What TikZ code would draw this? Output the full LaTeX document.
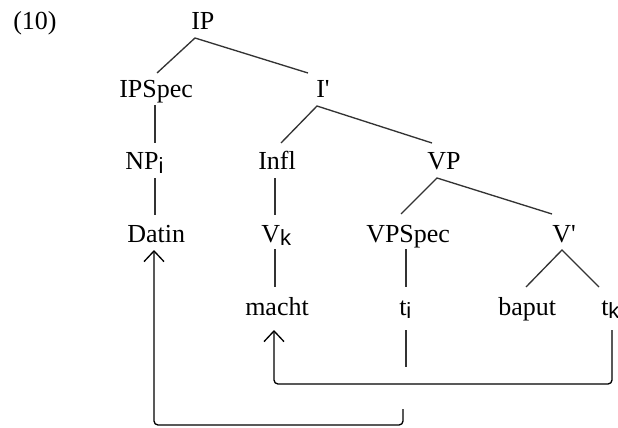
\documentclass[tikz,border=0pt]{standalone}
\usepackage{fontspec}
\setmainfont{Liberation Serif}[Ligatures=TeXOff]
\newfontfamily\subf{Liberation Sans}
\usetikzlibrary{arrows.meta}
\newcommand{\sbs}[1]{\raisebox{-2.8pt}{\subf\fontsize{16.5}{17}\selectfont #1}}
\begin{document}
\begin{tikzpicture}[x=0.75pt,y=-0.75pt,
  lbl/.style={inner sep=0pt, anchor=base west, font=\fontsize{19.5}{22}\selectfont},
  br/.style={line width=1pt, draw=black!80},
  mv/.style={line width=1pt, draw=black, rounded corners=3pt},
  tip/.style={-{Straight Barb[length=8pt,width=15pt,line width=1pt]}}]
\useasboundingbox (0,0) rectangle (618,428);
% labels
\node[lbl] (ex) at (13,30) {(10)};
\node[lbl] (IP) at (191,30) {IP};
\node[lbl] (IPSpec) at (119,98) {IPSpec};
\node[lbl] (Ibar) at (316,98) {I'};
\node[lbl] (NP) at (125,170) {NP\sbs{i}};
\node[lbl] (Infl) at (258,170) {Infl};
\node[lbl] (VP) at (427,170) {VP};
\node[lbl] (Datin) at (127,242) {Datin};
\node[lbl] (Vk) at (261,242) {V\sbs{k}};
\node[lbl] (VPSpec) at (366,242) {VPSpec};
\node[lbl] (Vbar) at (552,242) {V'};
\node[lbl] (macht) at (245,315) {macht};
\node[lbl] (ti) at (399,315) {t\sbs{i}};
\node[lbl] (baput) at (498,315) {baput};
\node[lbl] (tk) at (601,315) {t\sbs{k}};
% branch points
\coordinate (ipA) at (195,38);  \coordinate (ipL) at (157,73);  \coordinate (ipR) at (308,73);
\coordinate (ibA) at (317,106); \coordinate (ibL) at (281,143); \coordinate (ibR) at (432,143);
\coordinate (vpA) at (437,178); \coordinate (vpL) at (401,214); \coordinate (vpR) at (552,214);
\coordinate (vbA) at (562,250); \coordinate (vbL) at (526,287); \coordinate (vbR) at (599,287);
\coordinate (s1a) at (155,105); \coordinate (s1b) at (155,143);
\coordinate (s2a) at (155,178); \coordinate (s2b) at (155,215);
\coordinate (s3a) at (275,178); \coordinate (s3b) at (275,215);
\coordinate (s4a) at (406,249); \coordinate (s4b) at (406,287);
\coordinate (s5a) at (275,249); \coordinate (s5b) at (275,287);
\coordinate (s6a) at (406,330); \coordinate (s6b) at (406,367);
\draw[br] (ipL) -- (ipA) -- (ipR);
\draw[br] (ibL) -- (ibA) -- (ibR);
\draw[br] (vpL) -- (vpA) -- (vpR);
\draw[br] (vbL) -- (vbA) -- (vbR);
\draw[br] (s1a) -- (s1b);
\draw[br] (s2a) -- (s2b);
\draw[br] (s3a) -- (s3b);
\draw[br] (s4a) -- (s4b);
\draw[br] (s5a) -- (s5b);
\draw[br] (s6a) -- (s6b);
% movement arrows
\coordinate (m1s) at (612,330); \coordinate (m1e) at (274,330);
\draw[mv,tip] (m1s) -- (612,384) -- (274,384) -- (m1e);
\coordinate (m2s) at (403,409); \coordinate (m2e) at (154,250);
\draw[mv,tip] (m2s) -- (403,425) -- (154,425) -- (m2e);
\end{tikzpicture}
\end{document}
